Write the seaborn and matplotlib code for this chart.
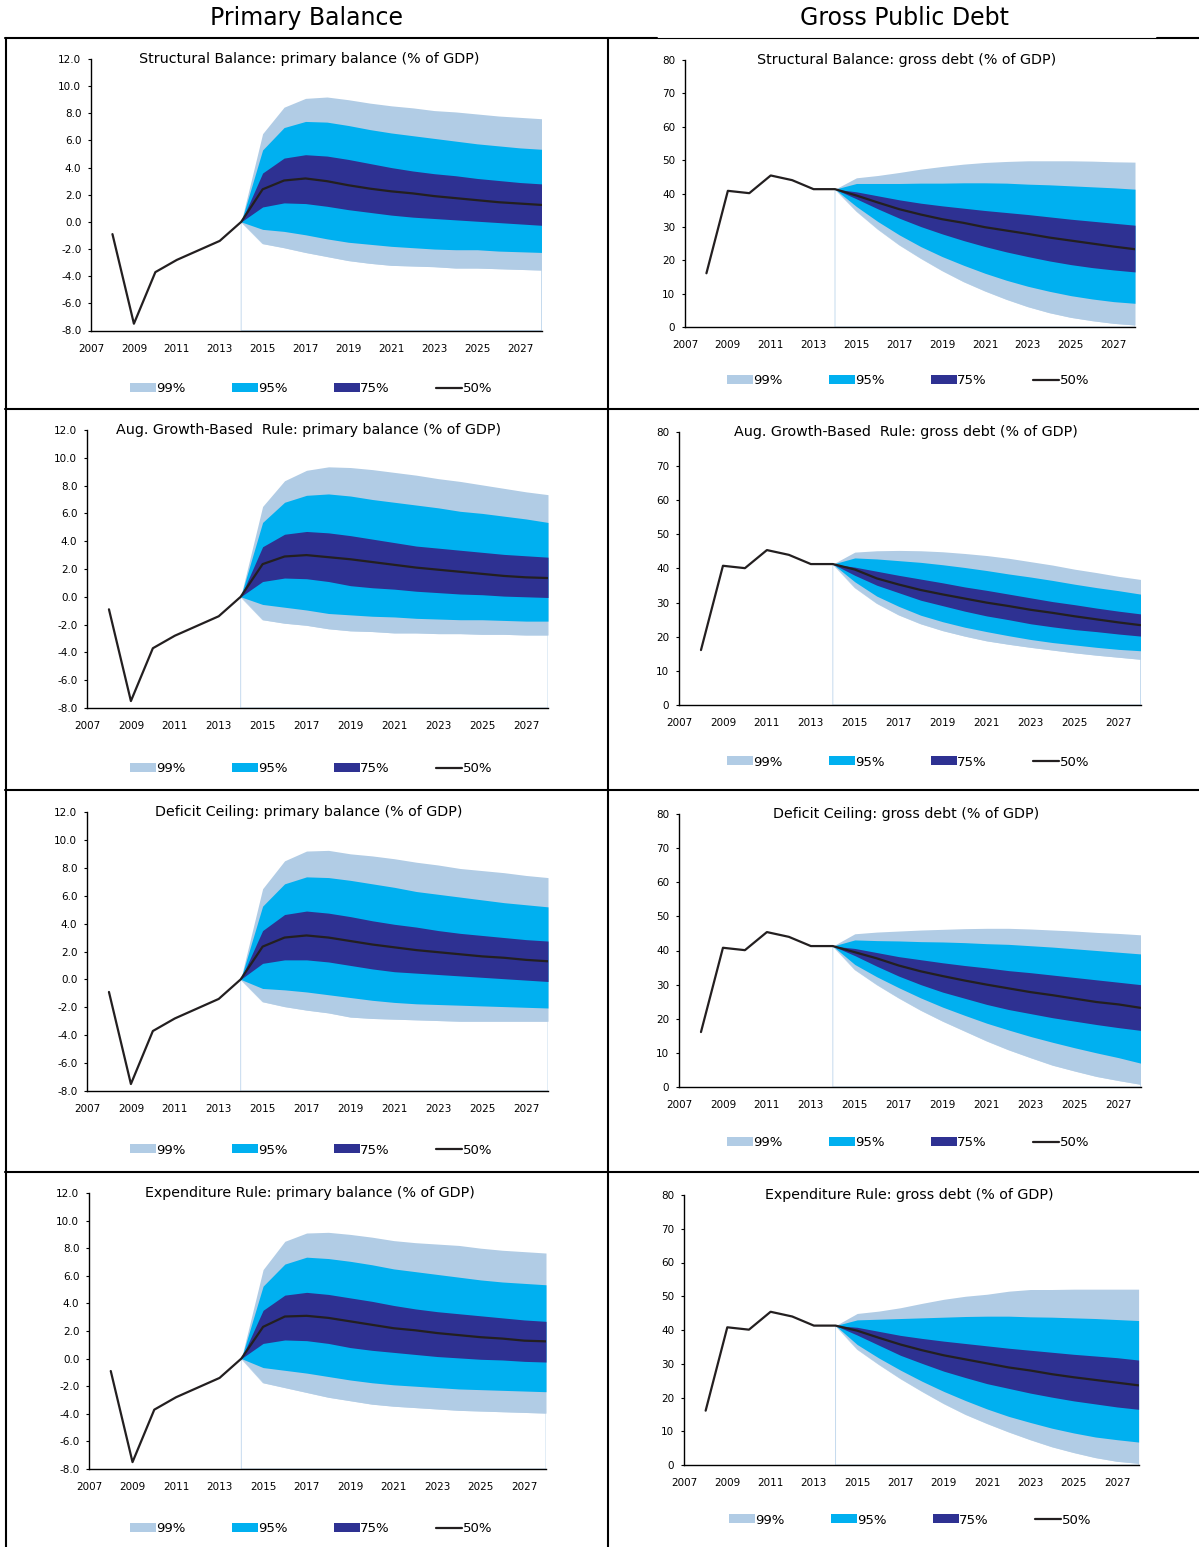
import numpy as np
import pandas as pd
import matplotlib
matplotlib.use("Agg")
import matplotlib.pyplot as plt
import seaborn as sns
from matplotlib.patches import Patch
from matplotlib.lines import Line2D

# ---------------- data ----------------
YEARS_HIST = [2008, 2009, 2010, 2011, 2012, 2013]
YEARS_FC = list(range(2014, 2029))

PB_HIST = [-0.9, -7.5, -3.7, -2.8, -2.1, -1.4]
DEBT_HIST = [16.1, 40.8, 40.1, 45.4, 44.0, 41.3]

# Structural Balance: primary balance
SB_PB_MED = [0, 2.4, 3.05, 3.2, 3.0, 2.7, 2.45, 2.25, 2.1, 1.9, 1.75, 1.6, 1.45, 1.35, 1.25]
SB_PB_HI75 = [0, 3.6, 4.7, 4.95, 4.85, 4.6, 4.3, 4.0, 3.75, 3.55, 3.4, 3.2, 3.05, 2.9, 2.8]
SB_PB_LO75 = [0, 1.1, 1.4, 1.35, 1.15, 0.9, 0.7, 0.5, 0.35, 0.25, 0.15, 0.05, -0.05, -0.15, -0.25]
SB_PB_HI95 = [0, 5.3, 6.95, 7.4, 7.35, 7.1, 6.8, 6.55, 6.35, 6.15, 5.95, 5.75, 5.6, 5.45, 5.35]
SB_PB_LO95 = [0, -0.55, -0.7, -0.95, -1.25, -1.5, -1.65, -1.8, -1.9, -2.0, -2.05, -2.05, -2.15, -2.2, -2.25]
SB_PB_HI99 = [0, 6.5, 8.45, 9.1, 9.2, 9.0, 8.75, 8.55, 8.4, 8.2, 8.1, 7.95, 7.8, 7.7, 7.6]
SB_PB_LO99 = [0, -1.6, -1.9, -2.25, -2.55, -2.85, -3.05, -3.2, -3.25, -3.3, -3.4, -3.4, -3.45, -3.5, -3.55]

# Aug. Growth-Based Rule: primary balance
AG_PB_MED = [0, 2.35, 2.9, 3.0, 2.85, 2.7, 2.5, 2.3, 2.1, 1.95, 1.8, 1.65, 1.5, 1.4, 1.35]
AG_PB_HI75 = [0, 3.6, 4.5, 4.7, 4.6, 4.4, 4.15, 3.9, 3.65, 3.5, 3.35, 3.2, 3.05, 2.95, 2.85]
AG_PB_LO75 = [0, 1.1, 1.35, 1.3, 1.1, 0.8, 0.65, 0.55, 0.4, 0.3, 0.2, 0.15, 0.05, 0.0, -0.05]
AG_PB_HI95 = [0, 5.35, 6.8, 7.3, 7.4, 7.25, 7.0, 6.8, 6.6, 6.4, 6.15, 6.0, 5.8, 5.6, 5.35]
AG_PB_LO95 = [0, -0.55, -0.75, -0.95, -1.2, -1.3, -1.4, -1.45, -1.55, -1.6, -1.65, -1.65, -1.7, -1.75, -1.75]
AG_PB_HI99 = [0, 6.5, 8.35, 9.1, 9.35, 9.3, 9.15, 8.95, 8.75, 8.5, 8.3, 8.05, 7.8, 7.55, 7.35]
AG_PB_LO99 = [0, -1.65, -1.9, -2.05, -2.3, -2.45, -2.5, -2.6, -2.6, -2.65, -2.65, -2.7, -2.7, -2.75, -2.75]

# Deficit Ceiling: primary balance
DC_PB_MED = [0, 2.35, 3.0, 3.15, 3.0, 2.75, 2.5, 2.3, 2.1, 1.95, 1.8, 1.65, 1.55, 1.4, 1.3]
DC_PB_HI75 = [0, 3.5, 4.65, 4.9, 4.75, 4.5, 4.2, 3.95, 3.75, 3.5, 3.3, 3.15, 3.0, 2.85, 2.75]
DC_PB_LO75 = [0, 1.15, 1.4, 1.4, 1.25, 1.0, 0.75, 0.55, 0.45, 0.35, 0.25, 0.15, 0.05, -0.05, -0.15]
DC_PB_HI95 = [0, 5.25, 6.85, 7.35, 7.3, 7.1, 6.85, 6.6, 6.3, 6.1, 5.9, 5.7, 5.5, 5.35, 5.2]
DC_PB_LO95 = [0, -0.65, -0.75, -0.9, -1.1, -1.3, -1.5, -1.65, -1.75, -1.8, -1.85, -1.9, -1.95, -2.0, -2.05]
DC_PB_HI99 = [0, 6.5, 8.5, 9.2, 9.25, 9.0, 8.85, 8.65, 8.4, 8.2, 7.95, 7.8, 7.65, 7.45, 7.3]
DC_PB_LO99 = [0, -1.6, -1.95, -2.2, -2.4, -2.7, -2.8, -2.85, -2.9, -2.95, -3.0, -3.0, -3.0, -3.0, -3.0]

# Expenditure Rule: primary balance
ER_PB_MED = [0, 2.3, 3.05, 3.1, 2.95, 2.7, 2.45, 2.2, 2.05, 1.85, 1.7, 1.55, 1.45, 1.3, 1.25]
ER_PB_HI75 = [0, 3.5, 4.6, 4.8, 4.65, 4.4, 4.15, 3.85, 3.6, 3.4, 3.25, 3.1, 2.95, 2.8, 2.7]
ER_PB_LO75 = [0, 1.1, 1.35, 1.3, 1.1, 0.8, 0.6, 0.45, 0.3, 0.15, 0.05, -0.05, -0.1, -0.2, -0.25]
ER_PB_HI95 = [0, 5.25, 6.85, 7.35, 7.25, 7.05, 6.8, 6.5, 6.3, 6.1, 5.9, 5.7, 5.55, 5.45, 5.35]
ER_PB_LO95 = [0, -0.65, -0.85, -1.05, -1.3, -1.55, -1.75, -1.9, -2.0, -2.1, -2.2, -2.25, -2.3, -2.35, -2.4]
ER_PB_HI99 = [0, 6.45, 8.5, 9.1, 9.15, 9.0, 8.8, 8.55, 8.4, 8.3, 8.2, 8.0, 7.85, 7.75, 7.65]
ER_PB_LO99 = [0, -1.75, -2.1, -2.45, -2.8, -3.05, -3.3, -3.45, -3.55, -3.65, -3.75, -3.8, -3.85, -3.9, -3.95]

# Structural Balance: gross debt
SB_DEBT_MED = [41.3, 39.4, 37.3, 35.3, 33.7, 32.3, 31.2, 29.9, 28.9, 27.9, 26.8, 25.9, 25.0, 24.1, 23.3]
SB_DEBT_HI75 = [41.3, 40.5, 39.3, 38.1, 37.1, 36.3, 35.6, 34.9, 34.3, 33.7, 33.0, 32.3, 31.7, 31.1, 30.5]
SB_DEBT_LO75 = [41.3, 38.4, 35.4, 32.6, 30.1, 27.9, 25.9, 24.1, 22.5, 21.1, 19.8, 18.7, 17.8, 17.1, 16.5]
SB_DEBT_HI95 = [41.3, 43.0, 43.0, 43.0, 43.1, 43.1, 43.2, 43.2, 43.1, 42.8, 42.6, 42.3, 42.0, 41.7, 41.3]
SB_DEBT_LO95 = [41.3, 36.1, 31.6, 27.6, 24.1, 21.1, 18.5, 16.1, 14.0, 12.2, 10.7, 9.4, 8.4, 7.6, 7.1]
SB_DEBT_HI99 = [41.3, 44.7, 45.4, 46.3, 47.3, 48.1, 48.8, 49.3, 49.6, 49.8, 49.8, 49.8, 49.7, 49.5, 49.4]
SB_DEBT_LO99 = [41.3, 34.7, 29.3, 24.6, 20.6, 16.9, 13.6, 10.8, 8.3, 6.1, 4.3, 2.9, 1.9, 1.1, 0.6]

# Aug. Growth-Based Rule: gross debt
AG_DEBT_MED = [41.3, 39.7, 37.1, 35.3, 33.7, 32.4, 31.2, 30.0, 29.0, 27.9, 27.0, 26.0, 25.1, 24.2, 23.4]
AG_DEBT_HI75 = [41.3, 40.4, 39.2, 38.0, 36.9, 35.8, 34.6, 33.6, 32.5, 31.4, 30.3, 29.4, 28.4, 27.5, 26.7]
AG_DEBT_LO75 = [41.3, 38.0, 35.1, 32.9, 30.7, 29.1, 27.5, 26.1, 25.0, 23.8, 22.9, 22.1, 21.5, 20.8, 20.2]
AG_DEBT_HI95 = [41.3, 43.1, 42.8, 42.3, 41.8, 41.1, 40.3, 39.4, 38.4, 37.5, 36.5, 35.4, 34.4, 33.5, 32.5]
AG_DEBT_LO95 = [41.3, 36.1, 31.9, 28.9, 26.3, 24.4, 22.8, 21.5, 20.3, 19.2, 18.3, 17.6, 16.9, 16.3, 15.9]
AG_DEBT_HI99 = [41.3, 44.8, 45.2, 45.3, 45.2, 44.9, 44.4, 43.8, 43.0, 42.0, 41.0, 39.8, 38.8, 37.7, 36.8]
AG_DEBT_LO99 = [41.3, 34.4, 29.8, 26.4, 23.8, 21.8, 20.2, 18.8, 17.8, 16.9, 16.1, 15.3, 14.6, 14.0, 13.4]

# Deficit Ceiling: gross debt
DC_DEBT_MED = [41.3, 39.5, 37.7, 35.6, 33.9, 32.5, 31.2, 30.0, 28.9, 27.8, 26.9, 25.9, 24.9, 24.2, 23.2]
DC_DEBT_HI75 = [41.3, 40.6, 39.4, 38.2, 37.3, 36.4, 35.6, 34.9, 34.1, 33.5, 32.8, 32.1, 31.4, 30.7, 30.0]
DC_DEBT_LO75 = [41.3, 38.5, 35.4, 32.5, 30.0, 27.8, 26.0, 24.2, 22.7, 21.5, 20.3, 19.3, 18.3, 17.4, 16.6]
DC_DEBT_HI95 = [41.3, 43.1, 42.9, 42.8, 42.6, 42.5, 42.3, 42.0, 41.8, 41.4, 41.0, 40.5, 40.0, 39.5, 39.0]
DC_DEBT_LO95 = [41.3, 35.9, 32.3, 29.1, 26.1, 23.4, 21.0, 18.7, 16.7, 14.8, 13.1, 11.5, 10.0, 8.6, 7.0]
DC_DEBT_HI99 = [41.3, 44.9, 45.4, 45.7, 46.0, 46.2, 46.4, 46.5, 46.5, 46.3, 46.0, 45.7, 45.3, 45.0, 44.6]
DC_DEBT_LO99 = [41.3, 34.4, 30.0, 26.1, 22.5, 19.3, 16.4, 13.5, 10.9, 8.6, 6.4, 4.7, 3.1, 1.9, 0.8]

# Expenditure Rule: gross debt
ER_DEBT_MED = [41.3, 39.8, 37.7, 35.7, 34.0, 32.5, 31.3, 30.1, 28.9, 28.0, 26.9, 26.0, 25.2, 24.4, 23.6]
ER_DEBT_HI75 = [41.3, 40.8, 39.6, 38.4, 37.5, 36.7, 36.0, 35.3, 34.6, 34.0, 33.4, 32.8, 32.3, 31.8, 31.1]
ER_DEBT_LO75 = [41.3, 38.5, 35.5, 32.5, 30.1, 27.8, 25.9, 24.1, 22.7, 21.3, 20.1, 19.0, 18.1, 17.2, 16.5]
ER_DEBT_HI95 = [41.3, 43.0, 43.2, 43.4, 43.6, 43.8, 44.0, 44.1, 44.1, 43.9, 43.8, 43.6, 43.4, 43.1, 42.8]
ER_DEBT_LO95 = [41.3, 35.7, 31.7, 28.1, 24.8, 21.8, 19.1, 16.6, 14.4, 12.6, 10.9, 9.5, 8.3, 7.5, 6.8]
ER_DEBT_HI99 = [41.3, 44.9, 45.6, 46.6, 47.9, 49.1, 50.0, 50.6, 51.5, 52.0, 52.0, 52.1, 52.1, 52.1, 52.1]
ER_DEBT_LO99 = [41.3, 34.3, 29.8, 25.6, 21.8, 18.2, 15.0, 12.3, 9.8, 7.5, 5.4, 3.7, 2.2, 1.1, 0.5]

COL_TITLES = ["Primary Balance", "Gross Public Debt"]
RULES = ["Structural Balance", "Aug. Growth-Based  Rule", "Deficit Ceiling", "Expenditure Rule"]
LEGEND_LABELS = ["99%", "95%", "75%", "50%"]

# ---------------- style ----------------
sns.set_style("white")
plt.rcParams["font.family"] = ["DejaVu Sans"]
plt.rcParams["axes.unicode_minus"] = False
plt.rcParams["text.color"] = "black"

C99 = "#B1CCE5"
C95 = "#00B0F0"
C75 = "#2E3192"
CMED = "#231F20"

W, H = 1199, 1547
fig = plt.figure(figsize=(W / 100, H / 100), dpi=100)
fig.patch.set_facecolor("white")


def rect(x0, x1, ytop, ybot):
    return [x0 / W, 1 - ybot / H, (x1 - x0) / W, (ybot - ytop) / H]


# panel geometry (pixels): x0, x1, ytop, ybot, title cx, legend cx, legend cy
GEOM = [
    [(91, 541.5, 59, 330.5, 309, 311, 389), (685, 1135, 60, 327, 907, 908, 381)],
    [(87, 548, 430, 708, 309, 311, 769), (679, 1140.5, 432, 705, 906, 908, 762)],
    [(87, 548, 812, 1091, 309, 311, 1150), (679, 1140.5, 814, 1087, 906, 908, 1143)],
    [(89, 546, 1193, 1469, 310, 311, 1529), (684, 1138.6, 1195, 1465, 909, 910, 1520)],
]

PANELS = [
    [(SB_PB_MED, SB_PB_HI75, SB_PB_LO75, SB_PB_HI95, SB_PB_LO95, SB_PB_HI99, SB_PB_LO99),
     (SB_DEBT_MED, SB_DEBT_HI75, SB_DEBT_LO75, SB_DEBT_HI95, SB_DEBT_LO95, SB_DEBT_HI99, SB_DEBT_LO99)],
    [(AG_PB_MED, AG_PB_HI75, AG_PB_LO75, AG_PB_HI95, AG_PB_LO95, AG_PB_HI99, AG_PB_LO99),
     (AG_DEBT_MED, AG_DEBT_HI75, AG_DEBT_LO75, AG_DEBT_HI95, AG_DEBT_LO95, AG_DEBT_HI99, AG_DEBT_LO99)],
    [(DC_PB_MED, DC_PB_HI75, DC_PB_LO75, DC_PB_HI95, DC_PB_LO95, DC_PB_HI99, DC_PB_LO99),
     (DC_DEBT_MED, DC_DEBT_HI75, DC_DEBT_LO75, DC_DEBT_HI95, DC_DEBT_LO95, DC_DEBT_HI99, DC_DEBT_LO99)],
    [(ER_PB_MED, ER_PB_HI75, ER_PB_LO75, ER_PB_HI95, ER_PB_LO95, ER_PB_HI99, ER_PB_LO99),
     (ER_DEBT_MED, ER_DEBT_HI75, ER_DEBT_LO75, ER_DEBT_HI95, ER_DEBT_LO95, ER_DEBT_HI99, ER_DEBT_LO99)],
]

for r in range(4):
    for c in range(2):
        x0, x1, yt, yb, tcx, lcx, lcy = GEOM[r][c]
        med, hi75, lo75, hi95, lo95, hi99, lo99 = PANELS[r][c]
        ax = fig.add_axes(rect(x0, x1, yt, yb))
        if c == 0:
            ymin, ymax, step = -8, 12, 2
            hist = PB_HIST
            title = f"{RULES[r]}: primary balance (% of GDP)"
        else:
            ymin, ymax, step = 0, 80, 10
            hist = DEBT_HIST
            title = f"{RULES[r]}: gross debt (% of GDP)"

        fc = np.array(YEARS_FC)
        # faint outline of the invisible base area
        ax.fill_between(fc, ymin, lo99, facecolor="none", edgecolor="#C5DAEE", lw=0.7, zorder=1)
        ax.fill_between(fc, lo99, hi99, color=C99, lw=0, zorder=2)
        ax.fill_between(fc, lo95, hi95, color=C95, lw=0, zorder=3)
        ax.fill_between(fc, lo75, hi75, color=C75, lw=0, zorder=4)

        df = pd.DataFrame({"year": YEARS_HIST + YEARS_FC, "value": list(hist) + list(med)})
        sns.lineplot(data=df, x="year", y="value", ax=ax, color=CMED, lw=1.6, zorder=5)

        ax.set_xlim(2007, 2028)
        ax.set_ylim(ymin, ymax)
        ax.set_xticks(range(2007, 2028, 2))
        yt_vals = np.arange(ymin, ymax + 0.01, step)
        ax.set_yticks(yt_vals)
        if c == 0:
            ax.set_yticklabels([f"{v:.1f}" for v in yt_vals])
        else:
            ax.set_yticklabels([f"{int(v)}" for v in yt_vals])
        ax.set_xlabel("")
        ax.set_ylabel("")
        for s in ["top", "right"]:
            ax.spines[s].set_visible(False)
        for s in ["left", "bottom"]:
            ax.spines[s].set_color("black")
            ax.spines[s].set_linewidth(1.0)
            ax.spines[s].set_zorder(6)
        ax.tick_params(axis="y", which="major", length=2.5, width=0.8, direction="out",
                       labelsize=7.5, pad=4.5, colors="black", left=True)
        ax.tick_params(axis="x", which="major", length=0, labelsize=7.5, pad=9.5, colors="black")
        ax.patch.set_alpha(0)

        fig.text(tcx / W, 1 - yt / H, title, ha="center", va="center", fontsize=10.3, color="black")

        handles = [Patch(facecolor=C99, edgecolor="none"),
                   Patch(facecolor=C95, edgecolor="none"),
                   Patch(facecolor=C75, edgecolor="none"),
                   Line2D([0], [0], color=CMED, lw=1.6)]
        fig.legend(handles, LEGEND_LABELS, loc="center",
                   bbox_to_anchor=(lcx / W, 1 - lcy / H), ncol=4, frameon=False,
                   fontsize=9.5, handlelength=1.95, handleheight=0.68,
                   handletextpad=0.05, columnspacing=3.5, borderpad=0)

# column titles
fig.text(306.5 / W, 1 - 18 / H, COL_TITLES[0], ha="center", va="center", fontsize=17, color="black")
fig.text(904.5 / W, 1 - 18 / H, COL_TITLES[1], ha="center", va="center", fontsize=17, color="black")

# grid frame lines
def hline(y, xa, xb, lw):
    fig.add_artist(Line2D([xa / W, xb / W], [1 - y / H, 1 - y / H], color="black", lw=lw,
                          transform=fig.transFigure))

def vline(x, ya, yb, lw):
    fig.add_artist(Line2D([x / W, x / W], [1 - ya / H, 1 - yb / H], color="black", lw=lw,
                          transform=fig.transFigure))

hline(38, 5, 657, 1.5)
hline(38, 657, 1157, 0.8)
hline(38, 1157, 1199, 1.5)
for yy in [408.5, 789.5, 1171.5]:
    hline(yy, 5, 1199, 1.5)
vline(6, 38, 1547, 1.5)
vline(607.5, 38, 1547, 1.5)

fig.savefig("out.png", dpi=100)
